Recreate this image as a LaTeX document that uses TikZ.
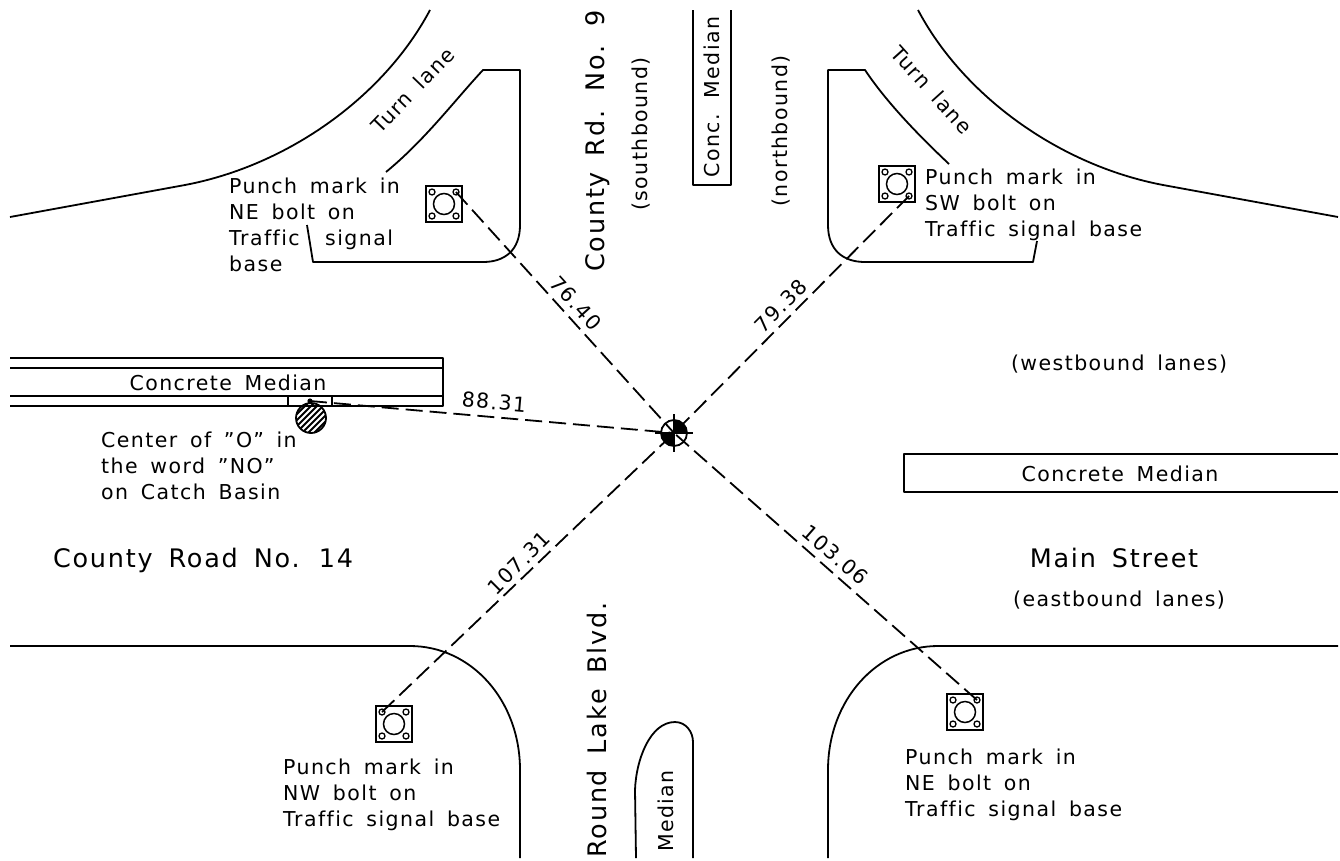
\documentclass[tikz,border=0pt]{standalone}
\usepackage{fontspec}
\setmainfont[LetterSpace=7,WordSpace=1.6,Ligatures=NoCommon]{DejaVu Sans}
\usetikzlibrary{patterns}
\tikzset{
  curb/.style={line width=1.8pt,line join=round},
  leader/.style={line width=1.8pt,dash pattern=on 17pt off 7pt},
  txt/.style={inner sep=0pt,anchor=west,align=left,font=\fontsize{20.5}{26}\selectfont},
  plain/.style={inner sep=0pt,font=\fontsize{20.5}{24}\selectfont},
  dist/.style={plain},
  rtxt/.style={plain,rotate=90},
  bigtxt/.style={inner sep=0pt,font=\fontsize{25.5}{30}\selectfont},
  basebox/.style={draw,line width=1.8pt,minimum size=36pt,inner sep=0pt},
}
\newcommand{\signalbase}[2]{%
  \node[basebox] (#1) at (#2) {};
  \draw[line width=1.5pt] (#1) circle (10.5pt);
  \foreach \dx in {-12,12}\foreach \dy in {-12,12}
    \draw[line width=1.3pt] ([shift={(\dx,\dy)}]#1.center) circle (3pt);
}
\begin{document}
\begin{tikzpicture}[x=1pt,y=-1pt]
\useasboundingbox (0,0) rectangle (1340,860);
\fill[white] (0,0) rectangle (1340,860);
% curbs
\draw[curb] (10,217) -- (185,185) .. controls (290,165) and (385,95) .. (430,10);
\draw[curb] (1338,217) -- (1163,185) .. controls (1058,165) and (963,95) .. (918,10);
\draw[curb] (10,646) -- (410,646) .. controls (471,646) and (520,700) .. (520,770) -- (520,858);
\draw[curb] (1338,646) -- (938,646) .. controls (877,646) and (828,700) .. (828,770) -- (828,858);
% islands
\draw[curb] (386,172) .. controls (425,140) and (455,100) .. (483,70) -- (520,70) -- (520,225)
  .. controls (520,250) and (505,262) .. (483,262) -- (313,262) -- (307,225);
\draw[curb] (949,164) .. controls (915,132) and (885,100) .. (865,70) -- (828,70) -- (828,225)
  .. controls (828,250) and (843,262) .. (865,262) -- (1033,262) -- (1037,241);
% medians
\draw[curb] (693,10) -- (693,185) -- (731,185) -- (731,10);
\draw[curb] (10,358) -- (443,358) -- (443,406) -- (10,406);
\draw[curb] (10,368) -- (443,368);
\draw[curb] (10,396) -- (443,396);
\draw[curb] (288,396) -- (288,406);
\draw[curb] (332,396) -- (332,406);
\draw[curb] (1338,454) -- (904,454) -- (904,492) -- (1338,492);
\draw[curb] (636,858) -- (635,790) .. controls (636,760) and (650,722) .. (675,722)
  .. controls (686,722) and (693,732) .. (693,742) -- (693,858);
% catch basin
\node[circle,minimum size=30pt,inner sep=0pt] (basin) at (311,418) {};
\begin{scope}
\clip (basin.center) circle (15pt);
\foreach \k in {-24,-18,...,24}
  \draw[line width=1.8pt] ([shift={(\k-20,20)}]basin.center) -- ([shift={(\k+20,-20)}]basin.center);
\end{scope}
\draw[line width=1.8pt] (basin.center) circle (15pt);
\coordinate (cb) at (310,401);
\fill (cb) circle (2.6pt);
% bases
\signalbase{nw}{444,204}
\signalbase{ne}{897,184}
\signalbase{sw}{394,724}
\signalbase{se}{965,712}
% leaders
\coordinate (ctr) at (674,433);
\coordinate (nwb) at (456,192);
\coordinate (neb) at (909,196);
\coordinate (swb) at (382,712);
\coordinate (seb) at (977,700);
\draw[leader] (nwb) -- (ctr);
\draw[leader] (neb) -- (ctr);
\draw[leader] (swb) -- (ctr);
\draw[leader] (seb) -- (ctr);
\draw[leader] (cb) -- (ctr);
% centre
\fill (ctr) -- ++(13pt,0pt) arc[start angle=0,end angle=90,radius=13pt] -- cycle;
\fill (ctr) -- ++(-13pt,0pt) arc[start angle=180,end angle=270,radius=13pt] -- cycle;
\draw[line width=1.8pt] (ctr) circle (13pt);
\draw[line width=1.8pt] (655,433) -- (693,433) (674,414) -- (674,452);
% distances
\node[dist,rotate=-48] (d1) at (576,303) {76.40};
\node[dist,rotate=45] (d2) at (781,306) {79.38};
\node[dist,rotate=-5] (d3) at (494,402) {88.31};
\node[dist,rotate=45] (d4) at (519,563) {107.31};
\node[dist,rotate=-41] (d5) at (835,555) {103.06};
% labels
\node[txt] (t1) at (229,225) {Punch mark in\\NE bolt on\\Traffic\ \ signal\\base};
\node[txt] (t2) at (925,205) {Punch mark in\\SW bolt on\\Traffic signal base};
\node[txt] (t3) at (283,795) {Punch mark in\\NW bolt on\\Traffic signal base};
\node[txt] (t4) at (905,785) {Punch mark in\\NE bolt on\\Traffic signal base};
\node[txt] (t5) at (101,466) {Center of "O" in\\the word "NO"\\on Catch Basin};
\node[plain] (m1) at (228,383) {Concrete Median};
\node[plain] (m2) at (1120,474) {Concrete Median};
\node[plain] (w) at (1119,364) {(westbound lanes)};
\node[plain] (e) at (1119,600) {(eastbound lanes)};
\node[bigtxt] (cr) at (203,560) {County Road No. 14};
\node[bigtxt] (ms) at (1114,558) {Main Street};
\node[bigtxt,rotate=90] (cr9) at (597,141) {County Rd. No. 9};
\node[bigtxt,rotate=90] (rl) at (597,730) {Round Lake Blvd.};
\node[rtxt] (sb) at (641,134) {(southbound)};
\node[rtxt] (nb) at (781,131) {(northbound)};
\node[rtxt] (cm) at (712,97) {Conc. Median};
\node[rtxt] (md) at (666,811) {Median};
\node[dist,rotate=46] (tl1) at (413,90) {Turn lane};
\node[dist,rotate=-48] (tl2) at (932,90) {Turn lane};
\end{tikzpicture}
\end{document}
